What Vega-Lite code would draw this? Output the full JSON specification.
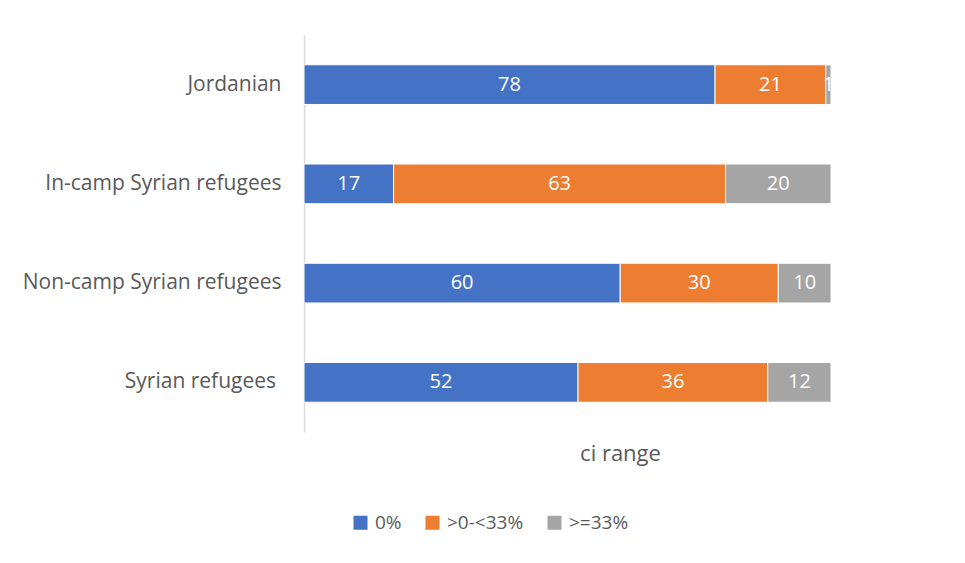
{
  "$schema": "https://vega.github.io/schema/vega-lite/v6.json",
  "width": 527,
  "height": 397,
  "autosize": {"type": "none"},
  "padding": {"left": 304, "top": 35, "right": 134, "bottom": 131},
  "background": "white",
  "config": {"view": {"stroke": null}, "font": "Open Sans"},
  "data": {
    "values": [
      {"category": "Jordanian", "group": "0%", "value": 78},
      {"category": "Jordanian", "group": ">0-<33%", "value": 21},
      {"category": "Jordanian", "group": ">=33%", "value": 1},
      {"category": "In-camp Syrian refugees", "group": "0%", "value": 17},
      {"category": "In-camp Syrian refugees", "group": ">0-<33%", "value": 63},
      {"category": "In-camp Syrian refugees", "group": ">=33%", "value": 20},
      {"category": "Non-camp Syrian refugees", "group": "0%", "value": 60},
      {"category": "Non-camp Syrian refugees", "group": ">0-<33%", "value": 30},
      {"category": "Non-camp Syrian refugees", "group": ">=33%", "value": 10},
      {"category": "Syrian refugees\u00a0\u200b", "group": "0%", "value": 52},
      {"category": "Syrian refugees\u00a0\u200b", "group": ">0-<33%", "value": 36},
      {"category": "Syrian refugees\u00a0\u200b", "group": ">=33%", "value": 12}
    ]
  },
  "transform": [
    {"stack": "value", "groupby": ["category"], "sort": [{"field": "group", "order": "ascending"}], "as": ["x0", "x1"]},
    {"calculate": "(datum.x0 + datum.x1) / 2", "as": "mid"}
  ],
  "encoding": {
    "y": {
      "field": "category",
      "type": "nominal",
      "sort": null,
      "scale": {"paddingInner": 0.6, "paddingOuter": 0.3},
      "axis": {
        "title": null,
        "ticks": false,
        "grid": false,
        "domainColor": "#d9d9d9",
        "domainWidth": 1.5,
        "labelFontSize": 21,
        "labelColor": "#595959",
        "labelPadding": 23,
        "labelLimit": 400
      }
    }
  },
  "layer": [
    {
      "mark": {"type": "bar", "stroke": "white", "strokeWidth": 1},
      "encoding": {
        "x": {
          "field": "x0",
          "type": "quantitative",
          "scale": {"domain": [0, 100], "nice": false},
          "axis": {
            "labels": false,
            "ticks": false,
            "domain": false,
            "grid": false,
            "title": "ci range",
            "titleFontSize": 22,
            "titleFontWeight": "normal",
            "titleColor": "#595959",
            "titleX": 316,
            "titleY": 21,
            "titleAlign": "center",
            "titleBaseline": "middle"
          }
        },
        "x2": {"field": "x1"},
        "color": {
          "field": "group",
          "type": "nominal",
          "scale": {"domain": ["0%", ">0-<33%", ">=33%"], "range": ["#4472C4", "#ED7D31", "#A5A5A5"]},
          "legend": {
            "title": null,
            "orient": "none",
            "direction": "horizontal",
            "legendX": 47,
            "legendY": 478,
            "symbolType": "square",
            "symbolSize": 196,
            "symbolStrokeWidth": 0,
            "labelFontSize": 19,
            "labelColor": "#595959",
            "labelOffset": 5,
            "columnPadding": 21
          }
        }
      }
    },
    {
      "mark": {"type": "text", "color": "white", "fontSize": 20},
      "encoding": {
        "x": {"field": "mid", "type": "quantitative"},
        "text": {"field": "value", "type": "quantitative"}
      }
    }
  ]
}
